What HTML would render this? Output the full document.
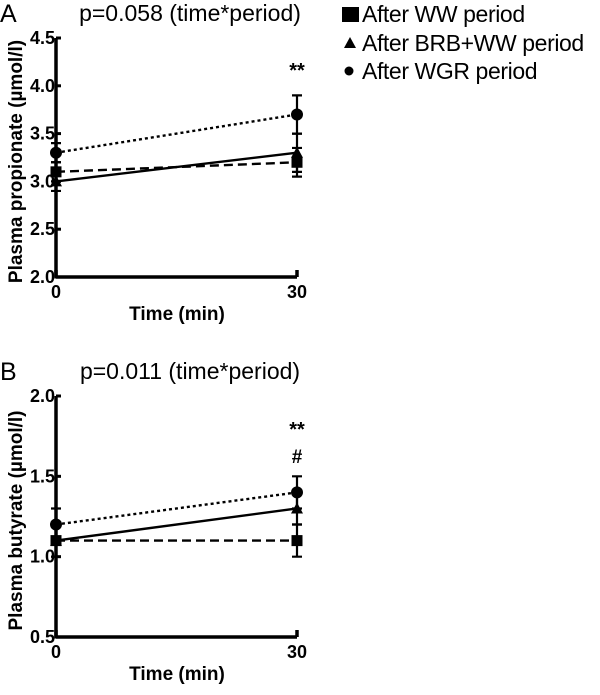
<!DOCTYPE html>
<html><head><meta charset="utf-8"><style>
body{margin:0;background:#fff;width:600px;height:690px;overflow:hidden}
svg{font-family:"Liberation Sans",Arial,sans-serif}
</style></head><body>
<svg id="s" width="600" height="690" xmlns="http://www.w3.org/2000/svg"></svg>
<script>
const times=[0,30];
const propWW=[3.1,3.2], propBRB=[3.0,3.3], propWGR=[3.3,3.7];
const propErrWW=[0.1,0.15], propErrBRB=[0.1,0.2], propErrWGR=[0.1,0.2];
const butWW=[1.1,1.1], butBRB=[1.1,1.3], butWGR=[1.2,1.4];
const butErrWW=[0.1,0.1], butErrBRB=[0.1,0.1], butErrWGR=[0.1,0.1];
const propTicks=[2.0,2.5,3.0,3.5,4.0,4.5];
const butTicks=[0.5,1.0,1.5,2.0];
const NS="http://www.w3.org/2000/svg";
const svg=document.getElementById('s');
function el(tag,attrs,parent,text){const e=document.createElementNS(NS,tag);for(const k in attrs)e.setAttribute(k,attrs[k]);if(text!==undefined)e.textContent=text;(parent||svg).appendChild(e);return e;}
function panel(cfg){
  const g=el('g',{});
  
  
  const x0=56,x1=297,yT=cfg.yTop,yB=cfg.yBot,ymin=cfg.ticks[0],ymax=cfg.ticks[cfg.ticks.length-1];
  const X=t=>x0+(t-times[0])/(times[1]-times[0])*(x1-x0);
  const Y=v=>yB-(v-ymin)/(ymax-ymin)*(yB-yT);
  const yax=el('line',{x1:x0,y1:yT,x2:x0,y2:yB+1.5,stroke:'#000','stroke-width':3.5},g);
  
  const xax=el('line',{x1:x0,y1:yB,x2:x1,y2:yB,stroke:'#000','stroke-width':3.5},g);
  
  cfg.ticks.forEach(v=>{
    el('line',{x1:x0,y1:Y(v),x2:x0+5,y2:Y(v),stroke:'#000','stroke-width':3},g);
    const t=el('text',{x:x0-1,y:Y(v)+6,'text-anchor':'end','font-size':18,'font-weight':'bold'},g,v.toFixed(1));
    
  });
  times.forEach(tv=>{
    el('line',{x1:X(tv),y1:yB,x2:X(tv),y2:yB-7,stroke:'#000','stroke-width':3.5},g);
    const t=el('text',{x:X(tv),y:yB+21,'text-anchor':'middle','font-size':18,'font-weight':'bold'},g,String(tv));
    
  });
  const xt=el('text',{x:177,y:yB+43,'text-anchor':'middle','font-size':19,'font-weight':'bold'},g,'Time (min)');
  
  const cy=(yT+yB)/2+4;
  const yt=el('text',{x:22,y:cy,'text-anchor':'middle','font-size':19,'font-weight':'bold',transform:`rotate(-90 22 ${cy})`},g,cfg.ylabel);
  
  const lt=el('text',{x:0,y:yT-16,'font-size':25},g,cfg.letter);
  
  const pt=el('text',{x:190,y:yT-17,'text-anchor':'middle','font-size':23},g,cfg.title);
  
  cfg.series.forEach(s=>{
    const ln=el('line',{x1:X(times[0]),y1:Y(s.v[0]),x2:X(times[1]),y2:Y(s.v[1]),stroke:'#000','stroke-width':2.4,'stroke-dasharray':s.dash},g);
    
    times.forEach((tv,i)=>{
      const x=X(tv),y=Y(s.v[i]),e=s.e[i];
      const eb=el('path',{d:`M${x},${Y(s.v[i]+e)}V${Y(s.v[i]-e)}M${x-5},${Y(s.v[i]+e)}h10M${x-5},${Y(s.v[i]-e)}h10`,stroke:'#000','stroke-width':2.2,fill:'none'},g);
      
      let m;
      if(s.m==='sq')m=el('rect',{x:x-5.5,y:y-5.5,width:11,height:11,fill:'#000'},g);
      else if(s.m==='tri')m=el('path',{d:`M${x},${y-6}L${x+6},${y+5}L${x-6},${y+5}Z`,fill:'#000'},g);
      else m=el('circle',{cx:x,cy:y,r:6,fill:'#000'},g);
      
    });
  });
  cfg.annot.forEach(a=>{
    const t=el('text',{x:X(30),y:a.y,'text-anchor':'middle','font-size':a.fs,'font-weight':'bold'},g,a.t);
    
  });
}
panel({name:'panel-a-propionate',letter:'A',title:'p=0.058 (time*period)',ylabel:'Plasma propionate (µmol/l)',yTop:38,yBot:277,ticks:propTicks,
  series:[{name:'ww',v:propWW,e:propErrWW,m:'sq',dash:'9 5'},{name:'brb-ww',v:propBRB,e:propErrBRB,m:'tri',dash:''},{name:'wgr',v:propWGR,e:propErrWGR,m:'circle',dash:'3 3'}],
  annot:[{t:'**',y:77,fs:20}]});
panel({name:'panel-b-butyrate',letter:'B',title:'p=0.011 (time*period)',ylabel:'Plasma butyrate (µmol/l)',yTop:396,yBot:637,ticks:butTicks,
  series:[{name:'ww',v:butWW,e:butErrWW,m:'sq',dash:'9 5'},{name:'brb-ww',v:butBRB,e:butErrBRB,m:'tri',dash:''},{name:'wgr',v:butWGR,e:butErrWGR,m:'circle',dash:'3 3'}],
  annot:[{t:'**',y:436,fs:20},{t:'#',y:463,fs:19}]});
const leg=el('g',{});

const items=[['sq','After WW period',14],['tri','After BRB+WW period',43],['circle','After WGR period',71]];
items.forEach(it=>{
  const g=el('g',{},leg);
  
  const y=it[2];
  if(it[0]==='sq')el('rect',{x:342,y:y-7,width:17,height:15,fill:'#000'},g);
  else if(it[0]==='tri')el('path',{d:`M350,${y-6}L356,${y+5}L344,${y+5}Z`,fill:'#000'},g);
  else el('circle',{cx:349,cy:y,r:4.5,fill:'#000'},g);
  el('text',{x:362,y:y+8,'font-size':23,'letter-spacing':'-0.4'},g,it[1]);
});
</script>
</body></html>
